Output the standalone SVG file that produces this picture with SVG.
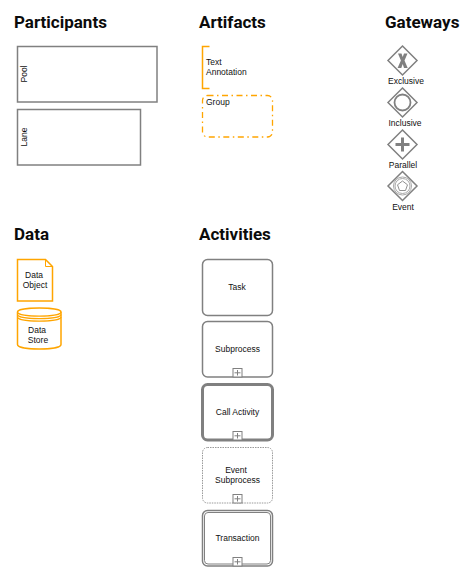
<svg xmlns="http://www.w3.org/2000/svg" width="471" height="573" viewBox="0 0 471 573">
<style>
text{font-family:"Liberation Sans",Arial,sans-serif;font-size:8.5px;fill:#111;text-anchor:middle}
text.h{font-family:Roboto,"Liberation Sans",sans-serif;font-size:17px;font-weight:700;text-anchor:start;fill:#0b0b0b}
text.l{text-anchor:start}
.p{fill:#fff;stroke:#808080;stroke-width:1.5}
.a{fill:#fff;stroke:#808080;stroke-width:1.5}
.o{fill:#fff;stroke:#ffa500;stroke-width:1.5}
.g{fill:#fff;stroke:#808080;stroke-width:1.5}
.m{fill:#fff;stroke:#808080;stroke-width:1}
.mp{fill:none;stroke:#808080;stroke-width:1}
</style>
<g id="headings">
<text class="h" x="14" y="28">Participants</text>
<text class="h" x="199" y="28">Artifacts</text>
<text class="h" x="385" y="28">Gateways</text>
<text class="h" x="14" y="240">Data</text>
<text class="h" x="199" y="240">Activities</text>
</g>
<g id="connectors"></g>
<g id="pool"><rect class="p" x="17.500" y="46.500" width="139.500" height="55.500"/><text transform="translate(27,74) rotate(-90)">Pool</text></g>
<g id="lane"><rect class="p" x="17.500" y="109.500" width="123" height="55.500"/><text transform="translate(27,137) rotate(-90)">Lane</text></g>
<g id="text-annotation"><path d="M209.500 46.500H202.500V88.500H209.500" fill="none" stroke="#ffa500" stroke-width="1.500"/><text class="l" x="206" y="65">Text</text><text class="l" x="206" y="75">Annotation</text></g>
<g id="group"><rect x="202.500" y="95.500" width="70" height="41.500" rx="5" fill="none" stroke="#ffa500" stroke-width="1.300" stroke-dasharray="6 3.500 1.500 3.500"/><text class="l" x="206" y="105">Group</text></g>
<g id="exclusive"><path class="g" d="M402.500 46L417 60.500L402.500 75L388 60.500Z"/><path d="M398 53.500h3.500l1.200 3.500l1.300-3.500h3.500l-3 7l3.200 7.500h-3.700l-1.300-4l-1.400 4h-3.700l3.300-7.500Z" fill="#808080"/><text x="406" y="84">Exclusive</text></g>
<g id="inclusive"><path class="g" d="M402.500 88L417 102.500L402.500 117L388 102.500Z"/><circle cx="402.500" cy="102.500" r="8" fill="none" stroke="#808080" stroke-width="1.800"/><text x="405" y="126">Inclusive</text></g>
<g id="parallel"><path class="g" d="M402.500 130L417 144.500L402.500 159L388 144.500Z"/><path d="M402.500 137.500v14M395.500 144.500h14" fill="none" stroke="#808080" stroke-width="3"/><text x="403" y="168">Parallel</text></g>
<g id="event"><path class="g" d="M402.500 171.500L417 186L402.500 200.500L388 186Z"/><circle cx="402.500" cy="186" r="9" fill="none" stroke="#a8a8a8" stroke-width="1"/><circle cx="402.500" cy="186" r="7.500" fill="none" stroke="#a8a8a8" stroke-width="1"/><path d="M402.500 181L407.500 184.800L405.500 190.500H399.500L397.500 184.800Z" fill="none" stroke="#909090" stroke-width="1"/><text x="403" y="210">Event</text></g>
<g id="data-object"><path class="o" d="M17.500 259.500H45.500L52.500 266.500V301H17.500Z"/><path d="M45.500 259.500V266.500H52.500" fill="none" stroke="#ffa500" stroke-width="1"/><text x="34" y="278">Data</text><text x="35" y="288">Object</text></g>
<g id="data-store"><path class="o" d="M17.500 312C17.500 306.700 61 306.700 61 312V344.500C61 350.500 17.500 350.500 17.500 344.500Z"/><path d="M17.500 312C17.500 317.500 61 317.500 61 312M17.500 314.500C17.500 320 61 320 61 314.500M17.500 317C17.500 322.500 61 322.500 61 317" fill="none" stroke="#ffa500" stroke-width="1.200"/><text x="37" y="333">Data</text><text x="38" y="343">Store</text></g>
<g id="task"><rect class="a" x="202.500" y="259.500" width="70" height="56" rx="5"/><text x="237" y="290">Task</text></g>
<g id="subprocess"><rect class="a" x="202.500" y="321.500" width="70" height="55.500" rx="5"/><text x="237.500" y="352">Subprocess</text><rect class="m" x="233" y="368.500" width="9" height="8.500"/><path class="mp" d="M237.500 370v5.500M234.500 372.800h6"/></g>
<g id="call-activity"><rect class="a" style="stroke-width:3" x="202.500" y="384.500" width="70" height="55.500" rx="5"/><text x="237.500" y="415">Call Activity</text><rect class="m" x="233" y="431.500" width="9" height="8.500"/><path class="mp" d="M237.500 433v5.500M234.500 435.800h6"/></g>
<g id="event-subprocess"><rect class="a" style="stroke-width:1;stroke-dasharray:1.500 1;stroke:#999" x="202.500" y="447.500" width="70" height="55.500" rx="5"/><text x="236" y="473">Event</text><text x="237.500" y="483">Subprocess</text><rect class="m" x="233" y="494.500" width="9" height="8.500"/><path class="mp" d="M237.500 496v5.500M234.500 498.800h6"/></g>
<g id="transaction"><rect class="a" x="202.500" y="510.500" width="70" height="55.500" rx="5"/><rect x="204.500" y="512.500" width="66" height="51.500" rx="3.500" fill="none" stroke="#808080" stroke-width="1"/><text x="237.500" y="541">Transaction</text><rect class="m" x="233" y="557.500" width="9" height="8.500"/><path class="mp" d="M237.500 559v5.500M234.500 561.800h6"/></g>
</svg>
